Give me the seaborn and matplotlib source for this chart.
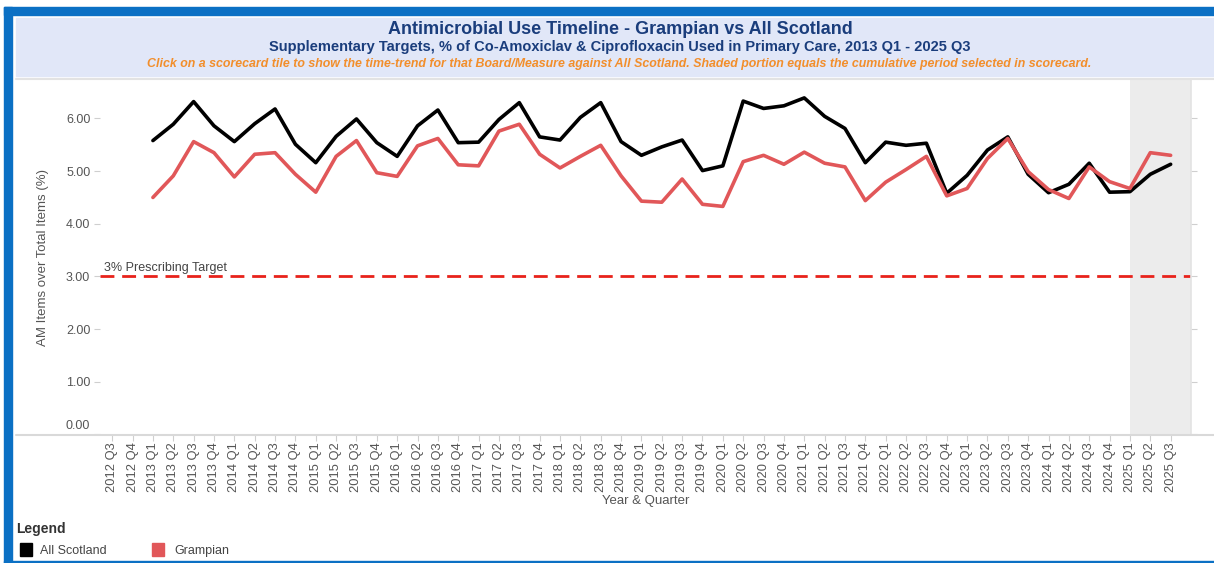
import numpy as np
import pandas as pd
import matplotlib
matplotlib.use("Agg")
import matplotlib.pyplot as plt
import matplotlib.transforms as mtransforms
import seaborn as sns
from matplotlib.patches import Rectangle
from matplotlib.lines import Line2D

quarters = [
    "2012 Q3", "2012 Q4",
    "2013 Q1", "2013 Q2", "2013 Q3", "2013 Q4",
    "2014 Q1", "2014 Q2", "2014 Q3", "2014 Q4",
    "2015 Q1", "2015 Q2", "2015 Q3", "2015 Q4",
    "2016 Q1", "2016 Q2", "2016 Q3", "2016 Q4",
    "2017 Q1", "2017 Q2", "2017 Q3", "2017 Q4",
    "2018 Q1", "2018 Q2", "2018 Q3", "2018 Q4",
    "2019 Q1", "2019 Q2", "2019 Q3", "2019 Q4",
    "2020 Q1", "2020 Q2", "2020 Q3", "2020 Q4",
    "2021 Q1", "2021 Q2", "2021 Q3", "2021 Q4",
    "2022 Q1", "2022 Q2", "2022 Q3", "2022 Q4",
    "2023 Q1", "2023 Q2", "2023 Q3", "2023 Q4",
    "2024 Q1", "2024 Q2", "2024 Q3", "2024 Q4",
    "2025 Q1", "2025 Q2", "2025 Q3",
]

all_scotland = [
    np.nan, np.nan,
    5.58, 5.89, 6.32, 5.86,
    5.56, 5.90, 6.18, 5.51,
    5.16, 5.66, 5.99, 5.54,
    5.28, 5.86, 6.16, 5.54,
    5.55, 5.98, 6.30, 5.65,
    5.59, 6.02, 6.30, 5.56,
    5.30, 5.46, 5.59, 5.01,
    5.10, 6.33, 6.19, 6.24,
    6.39, 6.04, 5.81, 5.16,
    5.55, 5.49, 5.53, 4.58,
    4.92, 5.40, 5.65, 4.94,
    4.59, 4.75, 5.15, 4.60,
    4.61, 4.94, 5.13,
]

grampian = [
    np.nan, np.nan,
    4.50, 4.91, 5.56, 5.35,
    4.89, 5.32, 5.35, 4.94,
    4.60, 5.28, 5.58, 4.97,
    4.90, 5.48, 5.62, 5.12,
    5.10, 5.76, 5.89, 5.32,
    5.06, 5.28, 5.49, 4.91,
    4.43, 4.41, 4.85, 4.37,
    4.33, 5.18, 5.30, 5.13,
    5.36, 5.15, 5.08, 4.44,
    4.79, 5.03, 5.28, 4.53,
    4.67, 5.24, 5.62, 4.99,
    4.65, 4.48, 5.08, 4.80,
    4.67, 5.35, 5.30,
]

series_names = ["All Scotland", "Grampian"]
series_colors = ["#000000", "#e15759"]
target_value = 3.0
target_label = "3% Prescribing Target"
y_ticks = [0, 1, 2, 3, 4, 5, 6]
shade_start = "2025 Q1"

W, H = 1214, 563
fig = plt.figure(figsize=(W / 100, H / 100), dpi=100)
sns.set_style("white")
plt.rcParams["font.family"] = ["Liberation Sans", "DejaVu Sans"]

def fx(px):
    return px / W

def fy(py):
    return 1 - py / H

# Frame decorations
fig.patches.append(Rectangle((fx(4), fy(563)), fx(8), 556 / H, transform=fig.transFigure,
                             color="#0b70c4", zorder=0))
fig.patches.append(Rectangle((fx(4), fy(15)), 1 - fx(4), 8 / H, transform=fig.transFigure,
                             color="#0b70c4", zorder=0))
fig.patches.append(Rectangle((fx(4), fy(563)), 1 - fx(4), 2 / H, transform=fig.transFigure,
                             color="#0b70c4", zorder=0))
fig.patches.append(Rectangle((fx(16), fy(76)), 1 - fx(16), 58 / H, transform=fig.transFigure,
                             color="#e1e7f8", zorder=0))
fig.lines.append(Line2D([fx(16), 1], [fy(79), fy(79)], transform=fig.transFigure,
                        color="#e3e3e3", lw=1.5, zorder=0))
fig.lines.append(Line2D([fx(16), 1], [fy(435), fy(435)], transform=fig.transFigure,
                        color="#d9d9d9", lw=1.5, zorder=0))

# Titles
fig.text(fx(620), fy(30), "Antimicrobial Use Timeline - Grampian vs All Scotland",
         ha="center", va="center", fontsize=13, fontweight="bold", color="#1a3d7c")
fig.text(fx(620), fy(47), "Supplementary Targets, % of Co-Amoxiclav & Ciprofloxacin Used in Primary Care, 2013 Q1 - 2025 Q3",
         ha="center", va="center", fontsize=10.5, fontweight="bold", color="#1a3d7c")
fig.text(fx(619), fy(64), "Click on a scorecard tile to show the time-trend for that Board/Measure against All Scotland. Shaded portion equals the cumulative period selected in scorecard.",
         ha="center", va="center", fontsize=8.9, fontweight="bold", fontstyle="italic", color="#f28e2b")

ax = fig.add_axes([fx(100), fy(435), fx(1191) - fx(100), (435 - 80) / H])

df = pd.DataFrame({
    "Quarter": quarters * 2,
    "idx": list(range(len(quarters))) * 2,
    "Value": all_scotland + grampian,
    "Series": [series_names[0]] * len(quarters) + [series_names[1]] * len(quarters),
})

sns.lineplot(data=df, x="idx", y="Value", hue="Series", palette=series_colors,
             hue_order=series_names, linewidth=2.6, ax=ax, legend=False, zorder=3)

ax.axvspan(quarters.index(shade_start), len(quarters), color="#ececec", zorder=0, lw=0)
ax.axhline(target_value, color="#e8221b", lw=2.0, ls=(0, (5, 2.8)), zorder=2)
ax.text(-0.4, target_value + 0.1, target_label, fontsize=9, color="#444444",
        ha="left", va="baseline")

ax.set_xlim(-0.6, len(quarters))
ax.set_ylim(-0.01, 6.73)
ax.set_xticks(range(len(quarters)))
ax.set_xticklabels(quarters, rotation=90, fontsize=9.3, color="#555555")
ax.set_yticks(y_ticks)
ax.set_yticklabels([f"{v:.2f}" for v in y_ticks], fontsize=9, color="#555555")
ax.tick_params(axis="x", length=4, color="#cfcfcf", width=0.8, pad=1, bottom=True)
ax.tick_params(axis="y", length=4, color="#cfcfcf", width=0.8, pad=3, left=True, right=True)
for side in ["top", "bottom", "left"]:
    ax.spines[side].set_visible(False)
ax.spines["right"].set_visible(True)
ax.spines["right"].set_color("#e3e3e3")
ax.spines["right"].set_linewidth(1.2)
ax.set_facecolor("none")
ax.grid(False)

# Lift the 0.00 label above the baseline like the reference
zero_lbl = ax.get_yticklabels()[0]
zero_lbl.set_va("bottom")
zero_lbl.set_transform(zero_lbl.get_transform() +
                       mtransforms.ScaledTranslation(0, 1.5 / 72, fig.dpi_scale_trans))

ax.set_xlabel("Year & Quarter", fontsize=9.5, color="#555555", labelpad=2)
ax.set_ylabel("AM Items over Total Items (%)", fontsize=9.5, color="#555555", labelpad=12)

# Legend
fig.text(fx(16), fy(529), "Legend", fontsize=10, fontweight="bold", color="#333333",
         ha="left", va="center")
legend_x = [20, 152]
text_x = [40, 174]
for name, col, lx, tx in zip(series_names, series_colors, legend_x, text_x):
    fig.patches.append(Rectangle((fx(lx), fy(556)), fx(12), 13 / H, transform=fig.transFigure,
                                 color=col))
    fig.text(fx(tx), fy(551), name, fontsize=9, color="#444444", ha="left", va="center")

fig.savefig("out.png", dpi=100, facecolor="white")
